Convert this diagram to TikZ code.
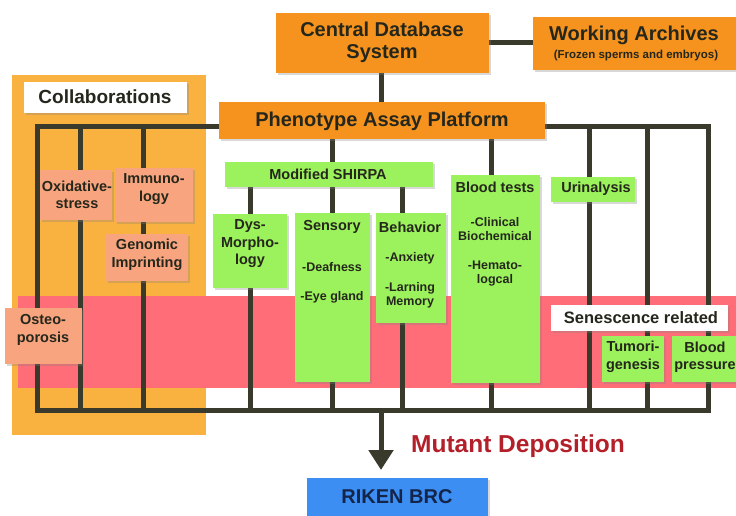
\documentclass[tikz,border=0pt]{standalone}
\usepackage{fontspec}
\setmainfont{Liberation Sans}
\usetikzlibrary{arrows.meta,shadows}
\definecolor{orgC}{HTML}{F5931E}
\definecolor{colC}{HTML}{F9B23F}
\definecolor{salC}{HTML}{F8A57F}
\definecolor{grnC}{HTML}{9CF25C}
\definecolor{pinkC}{HTML}{FF6E78}
\definecolor{bluC}{HTML}{3C8EF2}
\definecolor{lineC}{HTML}{3A3A2C}
\definecolor{txtC}{HTML}{25271C}
\definecolor{redC}{HTML}{B3202A}
\definecolor{navC}{HTML}{15254A}
\newcommand\myfs[2]{\fontsize{#1}{#2}\selectfont\bfseries}
\pgfdeclarelayer{bg}
\pgfdeclarelayer{lines}
\pgfsetlayers{bg,lines,main}
\begin{document}
\begin{tikzpicture}[x=1pt,y=-1pt,
  box/.style={draw=none, inner sep=0pt, anchor=north west,
    drop shadow={shadow xshift=1.5pt,shadow yshift=-1.5pt,opacity=0.3}},
  obox/.style={box, fill=orgC},
  sbox/.style={box, fill=salC},
  gbox/.style={box, fill=grnC},
  wbox/.style={box, fill=white},
  lbl/.style={inner sep=0pt, align=center, text=txtC},
  big/.style={lbl, font=\myfs{20}{22}},
  mid/.style={lbl, font=\myfs{14.5}{17.5}},
  sml/.style={lbl, font=\myfs{12.5}{14}},
  link/.style={draw=lineC, line width=5pt}]
\useasboundingbox (0,0) rectangle (736,516);

% top boxes
\node[obox, minimum width=213pt, minimum height=60pt] (cds) at (276,13) {};
\node[big] (cdsT) at (382,42) {Central Database\\System};
\node[obox, minimum width=207pt, minimum height=53pt] (wa) at (533,17) {};
\node[big] (waT) at (634,35) {Working Archives};
\node[sml, font=\myfs{11.5}{13}] (waS) at (636,56) {(Frozen sperms and embryos)};
\node[obox, minimum width=326pt, minimum height=37pt] (pap) at (219,102) {};
\node[big] (papT) at (382,121) {Phenotype Assay Platform};

% collaborations
\node[wbox, minimum width=163pt, minimum height=31pt] (col) at (24,82) {};
\node[lbl, font=\myfs{19}{22}] (colT) at (105,97) {Collaborations};
\node[sbox, minimum width=72pt, minimum height=50pt] (ox) at (40,170) {};
\node[mid] (oxT) at (77,195) {Oxidative-\\stress};
\node[sbox, minimum width=78pt, minimum height=54pt] (im) at (115,168) {};
\node[mid] (imT) at (154,189) {Immuno-\\logy};
\node[sbox, minimum width=82pt, minimum height=47pt] (gen) at (106,234) {};
\node[mid] (genT) at (147,255) {Genomic\\Imprinting};
\node[sbox, minimum width=77pt, minimum height=56pt] (ost) at (5,308) {};
\node[mid] (ostT) at (43,330) {Osteo-\\porosis};

% SHIRPA group
\node[gbox, minimum width=208pt, minimum height=25pt] (shirpa) at (225,162) {};
\node[mid] (shirpaT) at (328,174) {Modified SHIRPA};
\node[gbox, minimum width=74pt, minimum height=74pt] (dys) at (213,214) {};
\node[mid] (dysT) at (250,244) {Dys-\\Morpho-\\logy};
\node[gbox, minimum width=75pt, minimum height=169pt] (sens) at (295,213) {};
\node[mid] (sensT) at (332,227) {Sensory};
\node[sml] (sensA) at (332,267) {-Deafness};
\node[sml] (sensB) at (332,297) {-Eye gland};
\node[gbox, minimum width=70pt, minimum height=110pt] (beh) at (376,213) {};
\node[mid] (behT) at (410,227) {Behavior};
\node[sml] (behA) at (410,258) {-Anxiety};
\node[sml] (behB) at (410,295) {-Larning\\Memory};

% blood tests, urinalysis
\node[gbox, minimum width=89pt, minimum height=208pt] (blood) at (451,175) {};
\node[mid] (bloodT) at (495,187) {Blood tests};
\node[sml] (bloodA) at (495,229) {-Clinical\\Biochemical};
\node[sml] (bloodB) at (495,274) {-Hemato-\\logcal};
\node[gbox, minimum width=84pt, minimum height=25pt] (uri) at (551,177) {};
\node[mid] (uriT) at (596,189) {Urinalysis};

% senescence
\node[wbox, minimum width=177pt, minimum height=26pt] (sen) at (551,305) {};
\node[lbl, font=\myfs{16.5}{19}] (senT) at (641,318) {Senescence related};
\node[gbox, minimum width=62pt, minimum height=46pt] (tum) at (602,336) {};
\node[mid] (tumT) at (633,357) {Tumori-\\genesis};
\node[gbox, minimum width=68pt, minimum height=46pt] (bp) at (672,336) {};
\node[mid] (bpT) at (705,357) {Blood\\pressure};

% deposition
\node[box, fill=bluC, minimum width=181pt, minimum height=42pt] (riken) at (307,478) {};
\node[lbl, text=navC, font=\myfs{20}{22}] (rikenT) at (397,497) {RIKEN BRC};
\node[lbl, text=redC, font=\myfs{24.5}{28}] (mutT) at (518,446) {Mutant Deposition};

% backgrounds
\begin{pgfonlayer}{bg}
  \fill[white] (0,0) rectangle (736,516);
  \fill[colC] (12,75) rectangle (206,435);
  \fill[pinkC] (18,296) rectangle (740,388);
\end{pgfonlayer}

% connectors
\coordinate (tl) at (37,127);
\coordinate (tr) at (708,127);
\coordinate (bl) at (37,410);
\coordinate (br) at (708,410);
\coordinate (vOx) at (80,127);
\coordinate (vIm) at (143,127);
\coordinate (vBe) at (402,187);
\coordinate (vBl) at (491,139);
\coordinate (vU) at (589,127);
\coordinate (vT) at (647,127);
\begin{pgfonlayer}{lines}
  \draw[link] (cds.east |- 0,43) -- (wa.west |- 0,43);
  \draw[link] (cds.south -| 381,0) -- (pap.north -| 381,0);
  \draw[link, line join=miter] (pap.west |- tl) -- (tl) -- (bl) -- (br) -- (tr) -- (pap.east |- tr);
  \draw[link] (vOx) -- (vOx |- bl);
  \draw[link] (vIm) -- (vIm |- bl);
  \draw[link] (dys |- shirpa.south) -- (dys |- bl);
  \draw[link] (sens |- pap.south) -- (sens |- bl);
  \draw[link] (vBe) -- (vBe |- bl);
  \draw[link] (vBl) -- (vBl |- bl);
  \draw[link] (vU) -- (vU |- bl);
  \draw[link] (vT) -- (vT |- bl);
  \draw[link, -{Triangle[width=24pt,length=20pt]}, shorten >=8pt] (381,410) -- (riken.north -| 381,0);
\end{pgfonlayer}
\end{tikzpicture}
\end{document}
